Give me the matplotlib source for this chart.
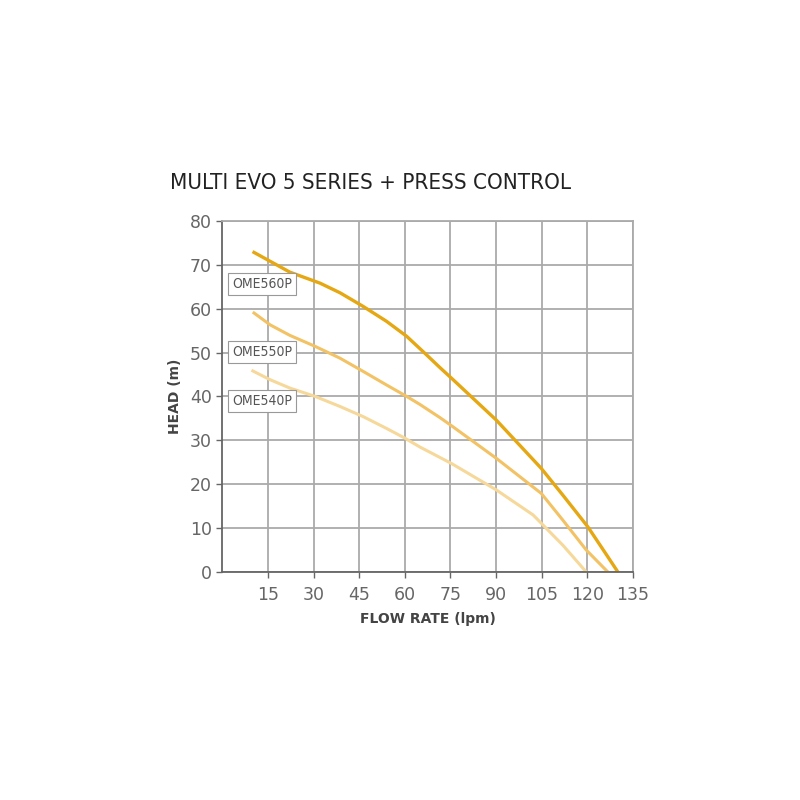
import matplotlib.pyplot as plt

x560 = [10.4, 22.2, 32.1, 38.7, 46.3, 54.0, 60.6, 67.1, 71.5, 75.9, 90.1, 104.9, 112.0, 120.2, 125.7, 130.1]
y560 = [72.8, 68.3, 65.8, 63.6, 60.5, 57.1, 53.7, 49.5, 46.6, 43.8, 34.6, 23.6, 17.5, 10.3, 4.6, 0]

x550 = [10.4, 15.7, 22.2, 30.5, 38.7, 46.3, 54.0, 60.6, 64.9, 71.5, 75.4, 90.1, 104.9, 112.0, 119.7, 126.8]
y550 = [59.0, 56.3, 53.9, 51.4, 48.7, 45.7, 42.6, 40.0, 38.2, 35.2, 33.3, 25.9, 17.9, 11.8, 5.0, 0]

x540 = [10.0, 15.7, 22.2, 30.5, 38.7, 46.3, 54.0, 60.0, 64.9, 75.4, 90.1, 102.2, 104.9, 112.0, 119.7]
y540 = [45.8, 43.8, 41.9, 40.0, 37.7, 35.4, 32.7, 30.5, 28.5, 24.7, 18.7, 13.0, 11.1, 6.1, 0]

labels = ["OME560P", "OME550P", "OME540P"]
label_y = [65.6, 50.1, 39.0]
colors = ["#E5A712", "#F2C264", "#F6D89A"]

xticks = [15, 30, 45, 60, 75, 90, 105, 120, 135]
yticks = [0, 10, 20, 30, 40, 50, 60, 70, 80]

fig = plt.figure(figsize=(8, 8), dpi=100)
ax = fig.add_axes([0.278, 0.285, 0.513, 0.439])

ax.plot(x540, y540, color=colors[2], lw=2.2)
ax.plot(x550, y550, color=colors[1], lw=2.2)
ax.plot(x560, y560, color=colors[0], lw=2.4)

for lab, yy in zip(labels, label_y):
    ax.text(13, yy, lab, ha="center", va="center", fontsize=10, color="#555555",
            fontstretch="condensed",
            bbox=dict(boxstyle="square,pad=0.3", fc="white", ec="#999999", lw=0.8))

ax.set_xlim(0, 135)
ax.set_ylim(0, 80)
ax.set_xticks(xticks)
ax.set_yticks(yticks)
ax.tick_params(axis="both", colors="#666666", labelsize=12.5, length=4, width=1)
ax.tick_params(axis="x", pad=6)
ax.grid(True, color="#aaaaaa", lw=1.3)
ax.set_axisbelow(True)
for s in ["top", "right"]:
    ax.spines[s].set_color("#aaaaaa")
    ax.spines[s].set_linewidth(1.3)
for s in ["left", "bottom"]:
    ax.spines[s].set_color("#666666")
    ax.spines[s].set_linewidth(1.3)

ax.set_xlabel("FLOW RATE (lpm)", fontsize=10, fontweight="bold", color="#444444",
              labelpad=6)
ax.set_ylabel("HEAD (m)", fontsize=10, fontweight="bold", color="#444444",
              labelpad=6)

fig.text(0.212, 0.771, "MULTI EVO 5 SERIES + PRESS CONTROL", fontsize=16,
         fontstretch="condensed", color="#222222", ha="left", va="center")

fig.savefig("out.png", dpi=100, facecolor="white")
